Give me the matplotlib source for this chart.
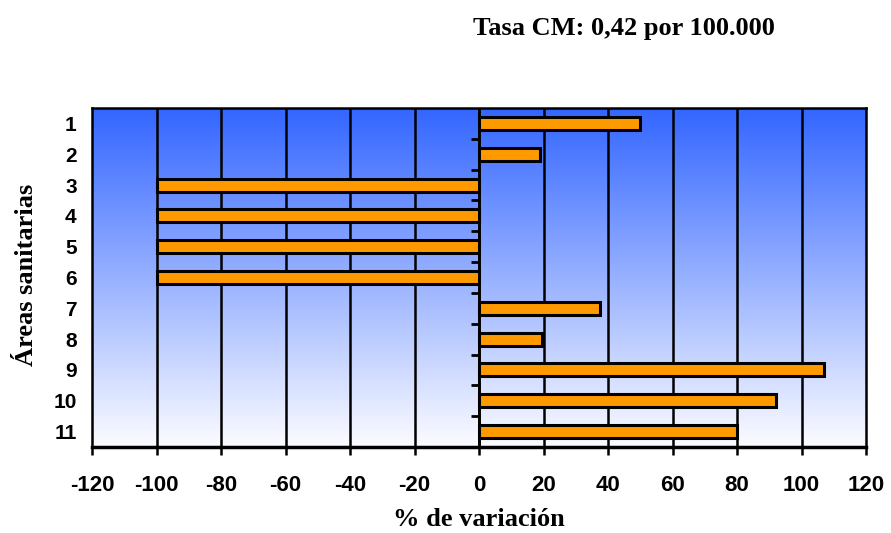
import numpy as np
import matplotlib
matplotlib.use("Agg")
import matplotlib.pyplot as plt
from matplotlib.colors import LinearSegmentedColormap

areas = ["1", "2", "3", "4", "5", "6", "7", "8", "9", "10", "11"]
variacion = [50, 19, -100, -100, -100, -100, 37.5, 19.5, 107, 92, 80]
xticks = [-120, -100, -80, -60, -40, -20, 0, 20, 40, 60, 80, 100, 120]

fig = plt.figure(figsize=(8.91, 5.33), dpi=100)
ax = fig.add_axes([92/891, 1-447/533, (866-92)/891, (447-108)/533])

# gradient background
cmap = LinearSegmentedColormap.from_list("bg", ["#3366FF", "#FCFCFF"])
grad = np.linspace(0, 1, 256).reshape(-1, 1)
ax.imshow(grad, aspect="auto", cmap=cmap, extent=[0, 1, 0, 1],
          transform=ax.transAxes, zorder=0, interpolation="bicubic", origin="upper")

ypos = np.arange(1, len(areas) + 1)
ax.barh(ypos, variacion, height=0.42, color="#FF9900", edgecolor="black",
        linewidth=2.2, zorder=3)

ax.set_xlim(-120, 120)
ax.set_ylim(len(areas) + 0.5, 0.5)
ax.set_xticks(xticks)
ax.set_xticklabels([str(v) for v in xticks])
ax.set_yticks(ypos)
ax.set_yticklabels(areas)

for v in xticks[1:-1]:
    ax.axvline(v, color="black", lw=1.8, zorder=1)
ax.axvline(0, color="black", lw=2.0, zorder=4)

for s in ax.spines.values():
    s.set_linewidth(1.8)
    s.set_zorder(5)
ax.spines["bottom"].set_linewidth(2.5)

ax.tick_params(axis="x", direction="out", length=6, width=1.8, pad=14,
               labelsize=16)
ax.tick_params(axis="y", length=0, pad=11, labelsize=15)
for lab in ax.get_xticklabels() + ax.get_yticklabels():
    lab.set_fontfamily("Liberation Sans")
    lab.set_fontweight("bold")

# category boundary ticks on the zero line
sec = ax.secondary_yaxis(0.5)
sec.yaxis.set_ticks_position("left")
sec.set_yticks(np.arange(1.5, len(areas), 1.0))
sec.set_yticklabels([])
sec.tick_params(axis="y", which="both", direction="out", length=6, width=2.0,
                left=True, right=False)
for s in sec.spines.values():
    s.set_visible(False)

ax.set_xlabel("% de variación", fontfamily="Liberation Serif", fontweight="bold",
              fontsize=19)
ax.xaxis.label.set_va("center")
ax.xaxis.set_label_coords(0.5, (447 - 520) / 339)
ax.set_ylabel("Áreas sanitarias", fontfamily="Liberation Serif", fontweight="bold",
              fontsize=19)
ax.yaxis.label.set_va("center")
ax.yaxis.set_label_coords((27 - 92) / 774, (447 - 275) / 339)

fig.text(473/891, 1-28/533, "Tasa CM: 0,42 por 100.000", ha="left", va="center",
         fontfamily="Liberation Serif", fontweight="bold", fontsize=19)

fig.savefig("out.png", dpi=100)
